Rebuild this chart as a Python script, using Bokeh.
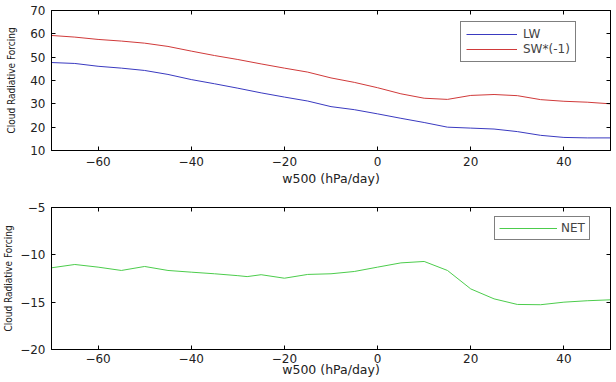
from bokeh.plotting import figure
from bokeh.layouts import column
from bokeh.models import LinearAxis, Range1d, FixedTicker, Legend, LegendItem
from bokeh.embed import file_html
from bokeh.resources import INLINE

# ---- data ----
w500 = [-70, -65, -60, -55, -50, -45, -40, -35, -30, -25, -20, -15, -10,
        -5, 0, 5, 10, 15, 20, 25, 30, 35, 40, 45, 50]
lw = [47.7, 47.3, 46.1, 45.3, 44.3, 42.6, 40.4, 38.6, 36.7, 34.7, 32.9, 31.2, 28.8,
      27.5, 25.7, 23.8, 22.0, 20.0, 19.6, 19.2, 18.1, 16.5, 15.6, 15.4, 15.4]
sw_neg = [59.3, 58.6, 57.6, 56.9, 56.0, 54.6, 52.6, 50.7, 49.0, 47.1, 45.3, 43.6, 41.1,
          39.2, 36.9, 34.3, 32.4, 31.9, 33.6, 34.0, 33.5, 31.8, 31.1, 30.7, 30.0]
w500_net = [-70, -65, -60, -55, -50, -45, -40, -35, -30, -28, -25, -20, -15, -10,
            -5, 0, 5, 10, 15, 20, 25, 30, 35, 40, 45, 50]
net = [-11.37, -11.02, -11.3, -11.65, -11.23, -11.65, -11.83, -12.0, -12.2, -12.3,
       -12.1, -12.47, -12.07, -12.0, -11.76, -11.3, -10.85, -10.7, -11.65, -13.6,
       -14.65, -15.24, -15.27, -15.0, -14.85, -14.75]

x_ticks = [-60, -40, -20, 0, 20, 40]
top_y_ticks = [10, 20, 30, 40, 50, 60, 70]
bot_y_ticks = [-20, -15, -10, -5]

FONT = "DejaVu Sans"
COND = "DejaVu Sans Condensed"
TXT = "#222222"


def style_axis(ax, ticks):
    ax.ticker = FixedTicker(ticks=ticks)
    ax.major_tick_in = 4
    ax.major_tick_out = 0
    ax.minor_tick_line_color = None
    ax.axis_line_color = "black"
    ax.major_tick_line_color = "black"
    ax.major_label_text_font = FONT
    ax.major_label_text_font_size = "12px"
    ax.major_label_text_color = TXT
    ax.major_label_standoff = 6


def mirror_axis(ticks):
    # tick marks only (drawn as minor ticks, so no labels are produced)
    ax = LinearAxis()
    ax.ticker = FixedTicker(ticks=[], minor_ticks=ticks)
    ax.major_tick_line_color = None
    ax.minor_tick_in = 4
    ax.minor_tick_out = 0
    ax.minor_tick_line_color = "black"
    ax.axis_line_color = "black"
    ax.major_label_standoff = 0
    return ax


def make_fig(height, yr, yticks, top_border, bottom_border, ylabel_standoff,
             xtick_standoff, xlabel_standoff):
    p = figure(width=616, height=height, x_range=Range1d(-70, 50),
               y_range=Range1d(*yr), output_backend="svg", toolbar_location=None,
               min_border_left=47, min_border_right=6,
               min_border_top=top_border, min_border_bottom=bottom_border)
    p.xgrid.visible = False
    p.ygrid.visible = False
    p.outline_line_color = "black"
    p.background_fill_color = "white"
    p.border_fill_color = "white"
    xa = p.below[0]
    ya = p.left[0]
    style_axis(xa, x_ticks)
    style_axis(ya, yticks)
    xa.major_label_standoff = xtick_standoff
    xa.axis_label = "w500 (hPa/day)"
    xa.axis_label_text_font = FONT
    xa.axis_label_text_font_size = "12.5px"
    xa.axis_label_text_font_style = "normal"
    xa.axis_label_text_color = TXT
    xa.axis_label_standoff = xlabel_standoff
    ya.axis_label = "Cloud Radiative Forcing"
    ya.axis_label_text_font = COND
    ya.axis_label_text_font_size = "10px"
    ya.axis_label_text_font_style = "normal"
    ya.axis_label_text_color = TXT
    ya.axis_label_standoff = ylabel_standoff
    p.add_layout(mirror_axis(x_ticks), "above")
    p.add_layout(mirror_axis(yticks), "right")
    return p


p1 = make_fig(195, (10, 70), top_y_ticks, 10, 45, 10, 6, 2)
r_lw = p1.line(w500, lw, line_color="#3a3ac0", line_width=1)
r_sw = p1.line(w500, sw_neg, line_color="#d03a3a", line_width=1)
leg1 = Legend(items=[LegendItem(label="LW", renderers=[r_lw]),
                     LegendItem(label="SW*(-1)", renderers=[r_sw])],
              location=(409, 88), border_line_color="black", border_line_width=1,
              padding=5, spacing=1, glyph_width=51, glyph_height=10,
              label_standoff=6, label_text_font=FONT, label_text_font_size="12px",
              label_height=10, margin=0, background_fill_alpha=1)
p1.add_layout(leg1, "center")

p2 = make_fig(187, (-20, -5), bot_y_ticks, 12, 33, 3, 4, -4)
r_net = p2.line(w500_net, net, line_color="#4ccc4c", line_width=1)
leg2 = Legend(items=[LegendItem(label="NET", renderers=[r_net])],
              location=(443, 109), border_line_color="black", border_line_width=1,
              padding=4, spacing=0, glyph_width=58, glyph_height=12,
              label_standoff=4, label_text_font=FONT, label_text_font_size="12px",
              label_height=12, margin=0, background_fill_alpha=1)
p2.add_layout(leg2, "center")

layout = column(p1, p2, spacing=0)
open("out.html", "w").write(file_html(layout, INLINE))
